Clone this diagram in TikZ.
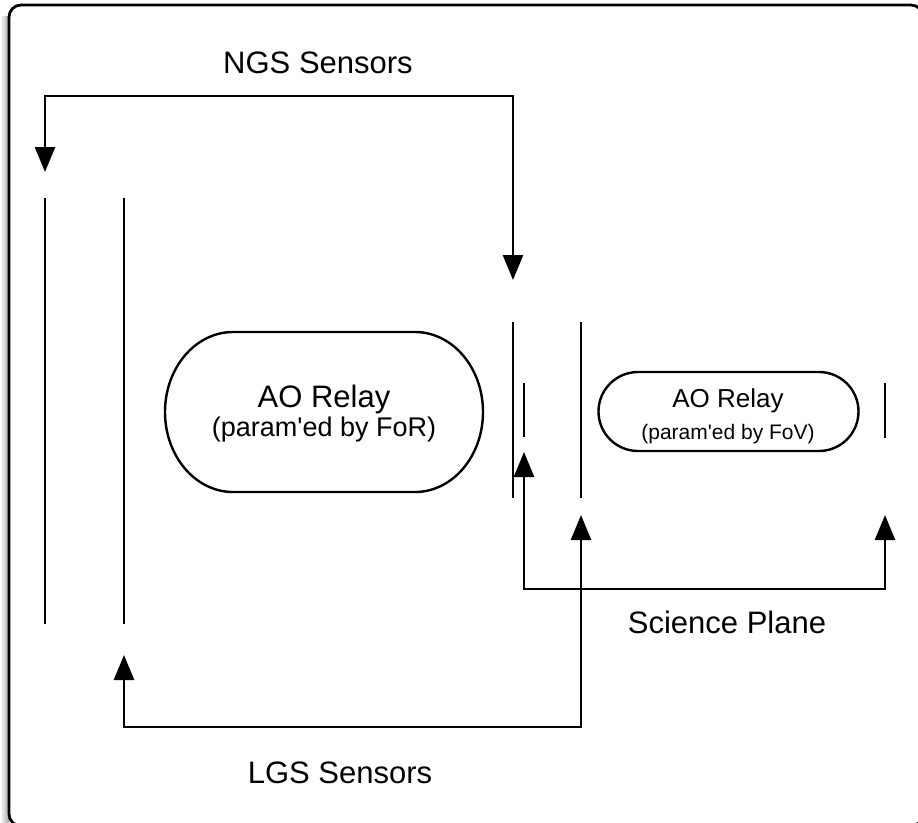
\documentclass[tikz,border=0pt]{standalone}
\usepackage{fontspec}
\setmainfont{Liberation Sans}
\usetikzlibrary{arrows.meta}

\tikzset{
  wire/.style={line width=2.6pt, line join=miter},
  plate/.style={line width=2.6pt},
  outline/.style={line width=2.4pt},
  tip/.tip={Triangle[length=25pt, width=20pt]},
  biglabel/.style={font=\fontsize{31}{37}\selectfont, anchor=base, inner sep=0pt},
  relaybig/.style={font=\fontsize{31}{37}\selectfont, anchor=base, inner sep=0pt},
  relaybigsub/.style={font=\fontsize{27}{32}\selectfont, anchor=base, inner sep=0pt},
  relaysmall/.style={font=\fontsize{26}{31}\selectfont, anchor=base, inner sep=0pt},
  relaysmallsub/.style={font=\fontsize{21}{25}\selectfont, anchor=base, inner sep=0pt},
}

\begin{document}
\begin{tikzpicture}[x=1pt, y=-1pt]
  \useasboundingbox (0,0) rectangle (918,822);

  % frame with its soft shadow on the left
  \shade[left color=white, right color=black!35] (0,16) rectangle (9,822);
  \fill[white, rounded corners=12pt] (9,5) rectangle (923,826);
  \draw[line width=2.8pt, rounded corners=12pt] (9,5) rectangle (923,826);

  % sensor and image planes
  \coordinate (p1t) at (45,198);  \coordinate (p1b) at (45,624);
  \coordinate (p2t) at (124,198); \coordinate (p2b) at (124,624);
  \coordinate (p3t) at (513,322); \coordinate (p3b) at (513,498);
  \coordinate (p4t) at (581,322); \coordinate (p4b) at (581,498);
  \coordinate (p5t) at (524,383); \coordinate (p5b) at (524,437);
  \coordinate (p6t) at (885,383); \coordinate (p6b) at (885,438);
  \foreach \p in {p1,p2,p3,p4,p5,p6}
    \draw[plate] (\p t) -- (\p b);

  % AO relay parameterised by the field of regard
  \draw[outline] (233,332) -- (415,332)
    arc[start angle=90, end angle=-90, x radius=68pt, y radius=80pt]
    -- (233,492)
    arc[start angle=-90, end angle=-270, x radius=68pt, y radius=80pt]
    -- cycle;
  \node[relaybig]    (relayR)    at (324,407) {AO Relay};
  \node[relaybigsub] (relayRsub) at (324,436) {(param\textquotesingle ed by FoR)};

  % AO relay parameterised by the field of view
  \draw[outline] (638,372) -- (819,372)
    arc[start angle=90, end angle=-90, x radius=39.5pt, y radius=39.5pt]
    -- (638,451)
    arc[start angle=-90, end angle=-270, x radius=39.5pt, y radius=39.5pt]
    -- cycle;
  \node[relaysmall]    (relayV)    at (728,407) {AO Relay};
  \node[relaysmallsub] (relayVsub) at (728,439) {(param\textquotesingle ed by FoV)};

  % connector end points
  \coordinate (ngsL) at (45,172);
  \coordinate (ngsR) at (513,280);
  \coordinate (lgsL) at (124,655);
  \coordinate (lgsR) at (581,515);
  \coordinate (sciL) at (524,452);
  \coordinate (sciR) at (885,515);

  % connectors
  \draw[wire, tip-tip] (ngsL) -- ++(0,-76) -| (ngsR);
  \draw[wire, tip-tip] (lgsL) -- ++(0,72) -| (lgsR);
  \draw[wire, tip-tip] (sciL) -- ++(0,137) -| (sciR);

  % labels
  \node[biglabel] (ngs) at (318,73)  {NGS Sensors};
  \node[biglabel] (lgs) at (340,783) {LGS Sensors};
  \node[biglabel] (sci) at (727,633) {Science Plane};
\end{tikzpicture}
\end{document}
